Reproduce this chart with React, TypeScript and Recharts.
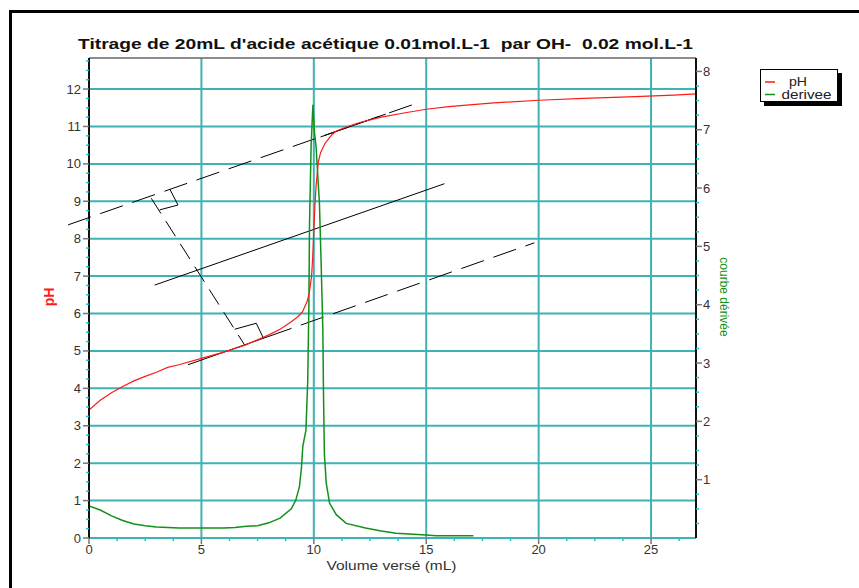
import { ComposedChart, Line, XAxis, YAxis, ReferenceLine } from 'recharts';

// pH curve (volume in mL -> pH)
const phVolumes = [0, 0.5, 1, 1.5, 2, 2.5, 3, 3.5, 4, 5, 6, 7, 7.5, 8, 8.5, 9, 9.3, 9.5, 9.7, 9.8, 9.9, 9.95, 10, 10.05, 10.1, 10.2, 10.3, 10.5, 10.8, 11, 11.5, 12, 13, 14, 15, 16, 18, 20, 22, 24, 26, 27];
const phValues = [3.42, 3.68, 3.88, 4.05, 4.2, 4.32, 4.43, 4.56, 4.63, 4.8, 4.97, 5.17, 5.3, 5.43, 5.58, 5.78, 5.92, 6.05, 6.32, 6.55, 7.0, 7.5, 8.2, 8.9, 9.4, 10.05, 10.3, 10.55, 10.78, 10.88, 11.0, 11.1, 11.25, 11.36, 11.46, 11.53, 11.63, 11.7, 11.75, 11.79, 11.84, 11.87];

// derivative curve (volume in mL -> dpH/dV)
const derivVolumes = [0, 0.5, 1, 1.5, 2, 2.5, 3, 4, 5, 6, 6.5, 7, 7.5, 8, 8.5, 9, 9.2, 9.36, 9.45, 9.51, 9.65, 9.73, 9.78, 9.81, 9.88, 9.96, 10.03, 10.1, 10.25, 10.33, 10.4, 10.43, 10.47, 10.55, 10.7, 11, 11.44, 12.3, 13, 13.66, 15, 15.44, 17.1];
const derivValues = [0.55, 0.48, 0.38, 0.3, 0.24, 0.21, 0.19, 0.17, 0.17, 0.17, 0.18, 0.2, 0.21, 0.26, 0.34, 0.5, 0.65, 0.88, 1.2, 1.57, 1.85, 2.7, 4.0, 5.4, 6.74, 7.43, 6.95, 6.71, 5.74, 4.65, 3.6, 2.5, 1.45, 0.95, 0.6, 0.4, 0.25, 0.17, 0.12, 0.08, 0.05, 0.04, 0.04];

const seriesNames = ['pH', 'derivee'];
const seriesColors = ['#ff1a1a', '#13901a'];

// axes
const xMax = 27;
const leftMax = 12.83;
const rightMax = 8.23;
const xLabelTicks = [0, 5, 10, 15, 20, 25];
const leftLabelTicks = [0, 1, 2, 3, 4, 5, 6, 7, 8, 9, 10, 11, 12];
const rightLabelTicks = [1, 2, 3, 4, 5, 6, 7, 8];
const xGridValues = [5, 10, 15, 20, 25];
const yGridValues = [0, 1, 2, 3, 4, 5, 6, 7, 8, 9, 10, 11, 12];

// construction of the parallel tangents (volume, pH)
const dashedSegments = [
  [[-0.93, 8.37], [14.48, 11.6]],
  [[8.0, 5.39], [19.81, 7.89]],
];
const perpendicularSegment = [[2.77, 9.08], [6.92, 5.16]];
const solidSegments = [
  [[2.92, 6.76], [15.81, 9.47]],
  [[4.4, 4.63], [8.0, 5.39]],
  [[10.3, 10.72], [13.2, 11.33]],
  [[3.59, 9.33], [3.96, 8.9]],
  [[3.96, 8.9], [3.14, 8.77]],
  [[6.48, 5.58], [7.44, 5.74]],
  [[7.44, 5.74], [7.76, 5.34]],
];

const phData = phVolumes.map((v, i) => ({ v, ph: phValues[i] }));
const derivData = derivVolumes.map((v, i) => ({ v, d: derivValues[i] }));

const steps = (max: number, step: number) => {
  const out: number[] = [];
  for (let t = 0; t <= max + 1e-9; t += step) out.push(t);
  return out;
};
const xTicks = steps(26.25, 1.25);
const leftTicks = steps(12.75, 0.25);
const rightTicks = steps(8, 0.25).slice(1);

const FONT = '"Liberation Sans", Arial, sans-serif';
const GRID = '#3fb3b3';
const MINOR = '#1cc6c6';

const LeftTick = (p: any) => {
  const major = leftLabelTicks.includes(p.payload.value);
  return (
    <g>
      <line x1={p.x - (major ? 6 : 3)} x2={p.x} y1={p.y} y2={p.y} stroke={major ? '#777' : MINOR} strokeWidth={1.5} />
      {major && (
        <text x={p.x - 8} y={p.y + 4.5} textAnchor="end" fontSize={13} fontFamily={FONT} fill="#333">
          {p.payload.value}
        </text>
      )}
    </g>
  );
};

const RightTick = (p: any) => {
  const major = rightLabelTicks.includes(p.payload.value);
  return (
    <g>
      <line x1={p.x} x2={p.x + (major ? 6 : 3)} y1={p.y} y2={p.y} stroke={major ? '#777' : MINOR} strokeWidth={1.5} />
      {major && (
        <text x={p.x + 7} y={p.y + 4.5} textAnchor="start" fontSize={13} fontFamily={FONT} fill="#333">
          {p.payload.value}
        </text>
      )}
    </g>
  );
};

const BottomTick = (p: any) => {
  const major = xLabelTicks.includes(p.payload.value);
  return (
    <g>
      <line x1={p.x} x2={p.x} y1={p.y} y2={p.y + (major ? 6 : 3)} stroke={major ? '#777' : MINOR} strokeWidth={1.5} />
      {major && (
        <text x={p.x} y={p.y + 16} textAnchor="middle" fontSize={13} fontFamily={FONT} fill="#333">
          {p.payload.value}
        </text>
      )}
    </g>
  );
};

export default function App() {
  return (
    <div style={{ position: 'absolute', left: 0, top: 0, width: 859, height: 588, overflow: 'hidden', background: '#fff' }}>
      <div style={{ position: 'absolute', left: 9, top: 10, width: 900, height: 700, border: '3px solid #000' }} />
      <div style={{ position: 'absolute', left: 0, top: 0 }}>
        <ComposedChart width={859} height={588} margin={{ top: 58, right: 113, bottom: 20, left: 39 }}>
          <XAxis
            dataKey="v"
            type="number"
            domain={[0, xMax]}
            allowDataOverflow
            ticks={xTicks}
            interval={0}
            tick={(p: any) => <BottomTick {...p} />}
            tickLine={false}
            tickSize={0}
            tickMargin={0}
            axisLine={false}
            height={30}
          />
          <YAxis
            yAxisId="left"
            type="number"
            domain={[0, leftMax]}
            allowDataOverflow
            ticks={leftTicks}
            interval={0}
            tick={(p: any) => <LeftTick {...p} />}
            tickLine={false}
            tickSize={0}
            tickMargin={0}
            axisLine={{ stroke: '#111', strokeWidth: 2 }}
            width={50}
          />
          <YAxis
            yAxisId="right"
            orientation="right"
            type="number"
            domain={[0, rightMax]}
            allowDataOverflow
            ticks={rightTicks}
            interval={0}
            tick={(p: any) => <RightTick {...p} />}
            tickLine={false}
            tickSize={0}
            tickMargin={0}
            axisLine={{ stroke: '#111', strokeWidth: 2 }}
            width={50}
          />
          {xGridValues.map((x) => (
            <ReferenceLine key={'gx' + x} x={x} yAxisId="left" stroke={GRID} strokeWidth={2} />
          ))}
          {yGridValues.map((y) => (
            <ReferenceLine key={'gy' + y} y={y} yAxisId="left" stroke={GRID} strokeWidth={2} />
          ))}
          <ReferenceLine y={leftMax} yAxisId="left" stroke="#666" strokeWidth={1.5} />
          {dashedSegments.map((s, i) => (
            <ReferenceLine
              key={'ds' + i}
              yAxisId="left"
              segment={[{ x: s[0][0], y: s[0][1] }, { x: s[1][0], y: s[1][1] }]}
              ifOverflow="visible"
              stroke="#000"
              strokeWidth={1}
              strokeDasharray="24 10"
            />
          ))}
          <ReferenceLine
            yAxisId="left"
            segment={[
              { x: perpendicularSegment[0][0], y: perpendicularSegment[0][1] },
              { x: perpendicularSegment[1][0], y: perpendicularSegment[1][1] },
            ]}
            ifOverflow="visible"
            stroke="#000"
            strokeWidth={1}
            strokeDasharray="18 9"
          />
          {solidSegments.map((s, i) => (
            <ReferenceLine
              key={'ss' + i}
              yAxisId="left"
              segment={[{ x: s[0][0], y: s[0][1] }, { x: s[1][0], y: s[1][1] }]}
              ifOverflow="visible"
              stroke="#000"
              strokeWidth={1}
            />
          ))}
          <Line
            data={derivData}
            dataKey="d"
            name={seriesNames[1]}
            yAxisId="right"
            type="linear"
            stroke={seriesColors[1]}
            strokeWidth={1.5}
            dot={false}
            isAnimationActive={false}
          />
          <Line
            data={phData}
            dataKey="ph"
            name={seriesNames[0]}
            yAxisId="left"
            type="linear"
            stroke={seriesColors[0]}
            strokeWidth={1.2}
            dot={false}
            isAnimationActive={false}
          />
        </ComposedChart>
      </div>
      <svg width={859} height={588} style={{ position: 'absolute', left: 0, top: 0, pointerEvents: 'none' }}>
        <text x={385.5} y={49} textAnchor="middle" fontFamily={FONT} fontSize={15} fontWeight="bold" fill="#111" textLength={615} lengthAdjust="spacingAndGlyphs" style={{ whiteSpace: 'pre' }}>
          {"Titrage de 20mL d'acide acétique 0.01mol.L-1  par OH-  0.02 mol.L-1"}
        </text>
        <text transform="translate(54,297) rotate(-90)" textAnchor="middle" fontFamily={FONT} fontSize={14} fontWeight="bold" fill={seriesColors[0]}>
          pH
        </text>
        <text transform="translate(720,297) rotate(90)" textAnchor="middle" fontFamily={FONT} fontSize={12} fill={seriesColors[1]}>
          courbe dérivée
        </text>
        <text x={391.5} y={570} textAnchor="middle" fontFamily={FONT} fontSize={13} fill="#333" textLength={130} lengthAdjust="spacingAndGlyphs">
          Volume versé (mL)
        </text>
        {/* legend */}
        <rect x={764} y={73} width={78} height={33} fill="#000" />
        <rect x={760.5} y={69.5} width={77} height={32} fill="#fff" stroke="#000" strokeWidth={1} />
        {seriesNames.map((name, i) => (
          <g key={name}>
            <line x1={765} x2={775} y1={82 + i * 12.5} y2={82 + i * 12.5} stroke={seriesColors[i]} strokeWidth={1.5} />
            <text x={i === 0 ? 789 : 781.5} y={86 + i * 12.5} fontFamily={FONT} fontSize={12} fill="#222" textLength={i === 0 ? 18 : 50} lengthAdjust="spacingAndGlyphs">
              {name}
            </text>
          </g>
        ))}
      </svg>
    </div>
  );
}
